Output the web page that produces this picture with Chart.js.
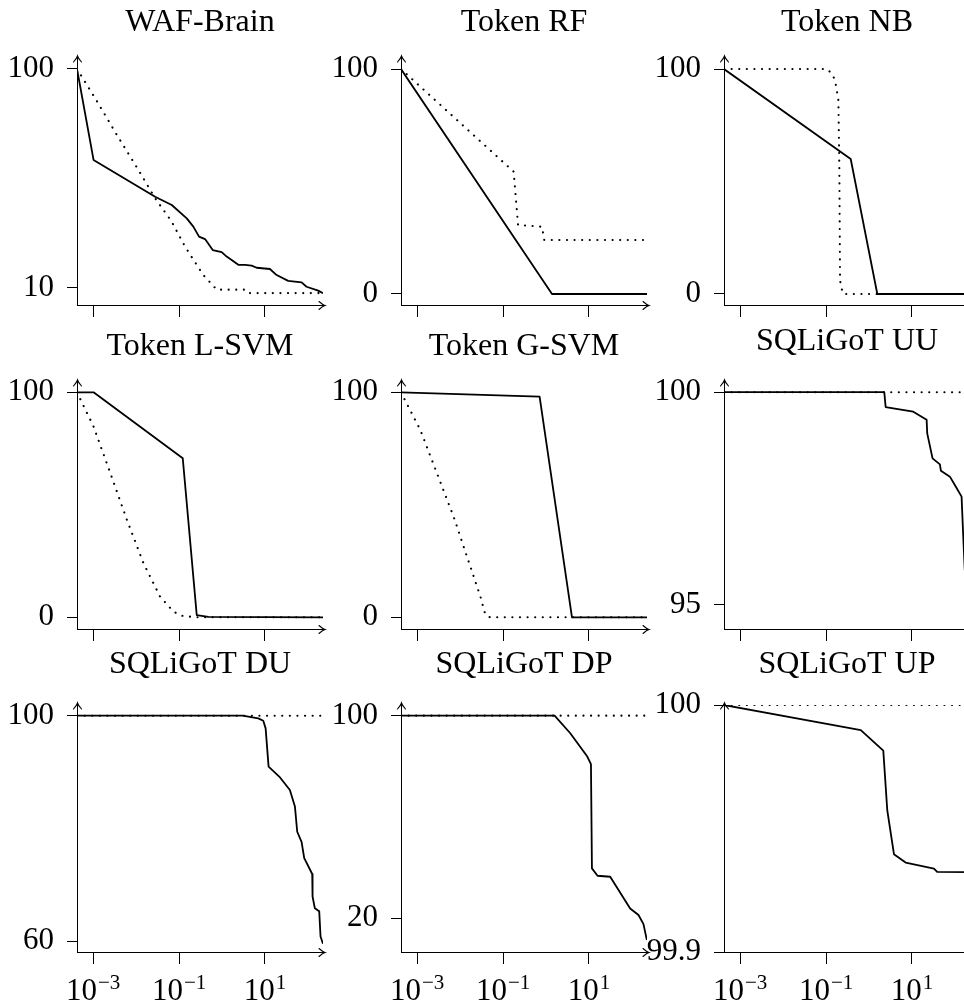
<!DOCTYPE html>
<html>
<head>
<meta charset="utf-8">
<title>Detection rate by threshold</title>
<script src="https://cdn.jsdelivr.net/npm/chart.js@4.4.1/dist/chart.umd.min.js"></script>
<style>
  html, body { margin: 0; padding: 0; background: #fff; overflow: hidden; }
  #grid { position: relative; width: 964px; height: 1005px; overflow: hidden; }
  #grid canvas { position: absolute; }
</style>
</head>
<body>
<div id="grid"></div>
<script>
// ---- shared log x axis ----
const xMin = 4.2e-4;
const xMax = 225;
const xTickValues = [1e-3, 1e-1, 1e1];
const xTickExponents = ['\u22123', '\u22121', '1'];

// ---- per panel: title, y ticks, y range ----
const panelTitles = [
  'WAF-Brain', 'Token RF', 'Token NB',
  'Token L-SVM', 'Token G-SVM', 'SQLiGoT UU',
  'SQLiGoT DU', 'SQLiGoT DP', 'SQLiGoT UP'
];
const yTickValues = [
  [10, 100], [0, 100], [0, 100],
  [0, 100], [0, 100], [95, 100],
  [60, 100], [20, 100], [99.9, 100]
];
const yMins = [3.0, -4.9, -4.9, -5.2, -5.2, 94.42, 58.05, 6.7, 99.9];
const yMaxs = [104.5, 104.9, 104.9, 104.6, 104.6, 100.24, 101.9, 104.2, 100];

// ---- series (solid / dotted) ----
const wafBrainSolidX = [4.2e-4, 0.00102, 0.0277, 0.0676, 0.151, 0.215, 0.292, 0.403, 0.608, 0.984, 1.285, 1.679, 2.399, 3.428, 4.909, 6.412, 13.06, 18.71, 34.83, 71.29, 93.11, 173.8, 225];
const wafBrainSolidY = [100, 62.6, 47.5, 44.1, 38.6, 35.2, 31.1, 30.1, 25.6, 24.7, 22.9, 21.5, 19.5, 19.5, 19.2, 18.3, 17.8, 15.3, 12.9, 12.3, 10.5, 8.9, 7.8];
const wafBrainDottedX = [4.2e-4, 0.00111, 0.00356, 0.0113, 0.0277, 0.0676, 0.138, 0.367, 0.753, 3.75, 4.47, 225];
const wafBrainDottedY = [100, 88.0, 72.9, 58.5, 46.9, 37.2, 27.0, 15.3, 9.3, 9.3, 7.9, 7.9];

const tokenRfSolidX = [4.2e-4, 1.38, 225];
const tokenRfSolidY = [100, 0, 0];
const tokenRfDottedX = [4.2e-4, 0.1766, 0.2234, 0.807, 0.912, 225];
const tokenRfDottedY = [100, 54.4, 30.7, 29.9, 24.0, 24.0];

const tokenNbSolidX = [4.2e-4, 0.375, 1.563, 225];
const tokenNbSolidY = [100, 60.0, 0, 0];
const tokenNbDottedX = [4.2e-4, 0.1038, 0.1355, 0.1618, 0.1936, 0.2037, 0.2118, 0.2234, 0.2512, 225];
const tokenNbDottedY = [100, 100, 98.1, 95.1, 86.2, 56.6, 6.2, 3.3, 0, 0];

const tokenLsvmSolidX = [4.2e-4, 0.00102, 0.1219, 0.2582, 0.4808, 225];
const tokenLsvmSolidY = [100, 100, 70.7, 1.0, 0.2, 0];
const tokenLsvmDottedX = [4.2e-4, 0.00102, 0.00251, 0.00608, 0.0148, 0.0361, 0.0741, 0.1156, 0.2512, 225];
const tokenLsvmDottedY = [100, 84.8, 64.1, 43.4, 24.1, 9.2, 2.5, 0.7, 0, 0];

const tokenGsvmSolidX = [4.2e-4, 0.7096, 4.027, 225];
const tokenGsvmSolidY = [100, 98.1, 0, 0];
const tokenGsvmDottedX = [4.2e-4, 0.00119, 0.0071, 0.0297, 0.0389, 0.0501, 225];
const tokenGsvmDottedY = [100, 83.2, 44.6, 9.2, 1.0, 0, 0];

const sqligotUuSolidX = [4.2e-4, 2.27, 2.443, 10.72, 21.98, 22.70, 30.20, 44.77, 47.21, 76.56, 105.4, 143.2, 156.7, 170];
const sqligotUuSolidY = [100, 100, 99.65, 99.54, 99.35, 99.03, 98.44, 98.30, 98.15, 98.01, 97.77, 97.54, 96.6, 95.8];
const sqligotUuDottedX = [4.2e-4, 225];
const sqligotUuDottedY = [100, 100];

const sqligotDuSolidX = [4.2e-4, 3.027, 7.0, 9.141, 10.38, 12.16, 21.53, 38.11, 49.89, 56.49, 71.29, 82.22, 126.2, 128.5, 145.5, 183.7, 197.2, 225];
const sqligotDuSolidY = [100, 100, 99.53, 99.1, 97.75, 90.95, 89.2, 86.8, 83.9, 79.4, 77.6, 74.7, 71.9, 67.9, 65.8, 65.3, 60.8, 59.5];
const sqligotDuDottedX = [4.2e-4, 225];
const sqligotDuDottedY = [100, 100];

const sqligotDpSolidX = [4.2e-4, 1.585, 3.673, 8.974, 11.14, 11.75, 15.85, 31.26, 91.2, 142.6, 186.2, 223.4];
const sqligotDpSolidY = [100, 100, 93.05, 84.1, 80.9, 39.7, 36.8, 36.4, 23.9, 21.3, 17.7, 11.4];
const sqligotDpDottedX = [4.2e-4, 225];
const sqligotDpDottedY = [100, 100];

const sqligotUpSolidX = [4.2e-4, 0.644, 2.153, 2.667, 3.811, 7.129, 32.51, 38.73, 225];
const sqligotUpSolidY = [100, 99.9898, 99.9815, 99.9573, 99.9396, 99.9362, 99.9338, 99.9324, 99.9323];
const sqligotUpDottedX = [4.2e-4, 225];
const sqligotUpDottedY = [100, 100];

const solidSeries = [
  [wafBrainSolidX, wafBrainSolidY], [tokenRfSolidX, tokenRfSolidY], [tokenNbSolidX, tokenNbSolidY],
  [tokenLsvmSolidX, tokenLsvmSolidY], [tokenGsvmSolidX, tokenGsvmSolidY], [sqligotUuSolidX, sqligotUuSolidY],
  [sqligotDuSolidX, sqligotDuSolidY], [sqligotDpSolidX, sqligotDpSolidY], [sqligotUpSolidX, sqligotUpSolidY]
];
const dottedSeries = [
  [wafBrainDottedX, wafBrainDottedY], [tokenRfDottedX, tokenRfDottedY], [tokenNbDottedX, tokenNbDottedY],
  [tokenLsvmDottedX, tokenLsvmDottedY], [tokenGsvmDottedX, tokenGsvmDottedY], [sqligotUuDottedX, sqligotUuDottedY],
  [sqligotDuDottedX, sqligotDuDottedY], [sqligotDpDottedX, sqligotDpDottedY], [sqligotUpDottedX, sqligotUpDottedY]
];

// ---- layout ----
const CELL_LEFT = [0, 324, 647];
const CELL_TOP = [0, 324, 647];
const CANVAS_W = 340;
const CANVAS_H = 360;
const AREA = { left: 77, top: 58, right: 323, bottom: 305 };
const X_AXIS_H = 40;
const SERIF = '"Liberation Serif", "Times New Roman", serif';

function toPoints(xs, ys) {
  return xs.map((x, i) => ({ x: x, y: ys[i] }));
}

// pgfplots-style axis arrows, panel titles and 10^n labels
const axisDecor = {
  id: 'axisDecor',
  afterDraw(chart, args, opts) {
    const { ctx, chartArea: a, scales } = chart;
    const ax = Math.round(a.left - 0.5) + 0.5;
    const ay = Math.round(a.bottom - 0.5) + 0.5;
    ctx.save();
    ctx.strokeStyle = '#000';
    ctx.lineWidth = 1.1;
    ctx.lineCap = 'round';

    // up arrow on y axis
    const ty = a.top - 2;
    ctx.beginPath();
    ctx.moveTo(ax, a.top);
    ctx.lineTo(ax, ty);
    ctx.moveTo(ax - 4, ty + 6);
    ctx.quadraticCurveTo(ax - 0.6, ty + 2.2, ax, ty);
    ctx.quadraticCurveTo(ax + 0.6, ty + 2.2, ax + 4, ty + 6);
    ctx.stroke();

    // right arrow on x axis
    const tx = a.right + 2;
    ctx.beginPath();
    ctx.moveTo(a.right, ay);
    ctx.lineTo(tx, ay);
    ctx.moveTo(tx - 6, ay - 4);
    ctx.quadraticCurveTo(tx - 2.2, ay - 0.6, tx, ay);
    ctx.quadraticCurveTo(tx - 2.2, ay + 0.6, tx - 6, ay + 4);
    ctx.stroke();

    // title, sitting on its depth like a TeX box
    ctx.fillStyle = '#000';
    ctx.font = '32px ' + SERIF;
    ctx.textAlign = 'center';
    ctx.textBaseline = 'alphabetic';
    const depth = Math.max(0, ctx.measureText(opts.title).actualBoundingBoxDescent);
    ctx.fillText(opts.title, (a.left + a.right) / 2, 31 - depth);

    if (opts.xLabels) {
      const baseFont = '31px ' + SERIF;
      const supFont = '21px ' + SERIF;
      ctx.textAlign = 'left';
      xTickValues.forEach((v, i) => {
        const px = scales.x.getPixelForValue(v);
        ctx.font = baseFont;
        const w1 = ctx.measureText('10').width;
        ctx.font = supFont;
        const w2 = ctx.measureText(xTickExponents[i]).width;
        const x0 = px - (w1 + 1 + w2) / 2;
        ctx.font = baseFont;
        ctx.fillText('10', x0, a.bottom + 48);
        ctx.font = supFont;
        ctx.fillText(xTickExponents[i], x0 + w1 + 1, a.bottom + 37);
      });
    }
    ctx.restore();
  }
};

const grid = document.getElementById('grid');

panelTitles.forEach((title, p) => {
  const row = Math.floor(p / 3);
  const col = p % 3;
  const canvas = document.createElement('canvas');
  canvas.width = CANVAS_W;
  canvas.height = CANVAS_H;
  canvas.style.left = CELL_LEFT[col] + 'px';
  canvas.style.top = CELL_TOP[row] + 'px';
  grid.appendChild(canvas);

  new Chart(canvas.getContext('2d'), {
    type: 'line',
    data: {
      datasets: [
        {
          label: 'solid',
          data: toPoints(solidSeries[p][0], solidSeries[p][1]),
          borderColor: '#000',
          borderWidth: 1.8,
          borderJoinStyle: 'round',
          pointRadius: 0,
          tension: 0
        },
        {
          label: 'dotted',
          data: toPoints(dottedSeries[p][0], dottedSeries[p][1]),
          borderColor: '#000',
          borderWidth: 2.1,
          borderDash: [0.1, 7.5],
          borderCapStyle: 'round',
          pointRadius: 0,
          tension: 0
        }
      ]
    },
    options: {
      responsive: false,
      animation: false,
      devicePixelRatio: 1,
      events: [],
      layout: {
        padding: {
          left: 0,
          top: AREA.top,
          right: CANVAS_W - AREA.right,
          bottom: CANVAS_H - AREA.bottom - X_AXIS_H
        }
      },
      plugins: {
        legend: { display: false },
        tooltip: { enabled: false },
        title: { display: false },
        axisDecor: { title: title, xLabels: row === 2 }
      },
      scales: {
        x: {
          type: 'logarithmic',
          min: xMin,
          max: xMax,
          afterBuildTicks: s => { s.ticks = xTickValues.map(v => ({ value: v })); },
          afterFit: s => { s.height = X_AXIS_H; },
          ticks: { display: false },
          grid: { drawOnChartArea: false, drawTicks: true, tickLength: 12, color: '#000', lineWidth: 1 },
          border: { display: true, color: '#000', width: 1 }
        },
        y: {
          type: 'linear',
          min: yMins[p],
          max: yMaxs[p],
          afterBuildTicks: s => { s.ticks = yTickValues[p].map(v => ({ value: v })); },
          afterFit: s => { s.width = AREA.left; },
          ticks: {
            color: '#000',
            padding: 13,
            font: { family: SERIF, size: 31 },
            callback: v => String(v)
          },
          grid: { drawOnChartArea: false, drawTicks: true, tickLength: 10, color: '#000', lineWidth: 1 },
          border: { display: true, color: '#000', width: 1 }
        }
      }
    },
    plugins: [axisDecor]
  });
});
</script>
</body>
</html>
